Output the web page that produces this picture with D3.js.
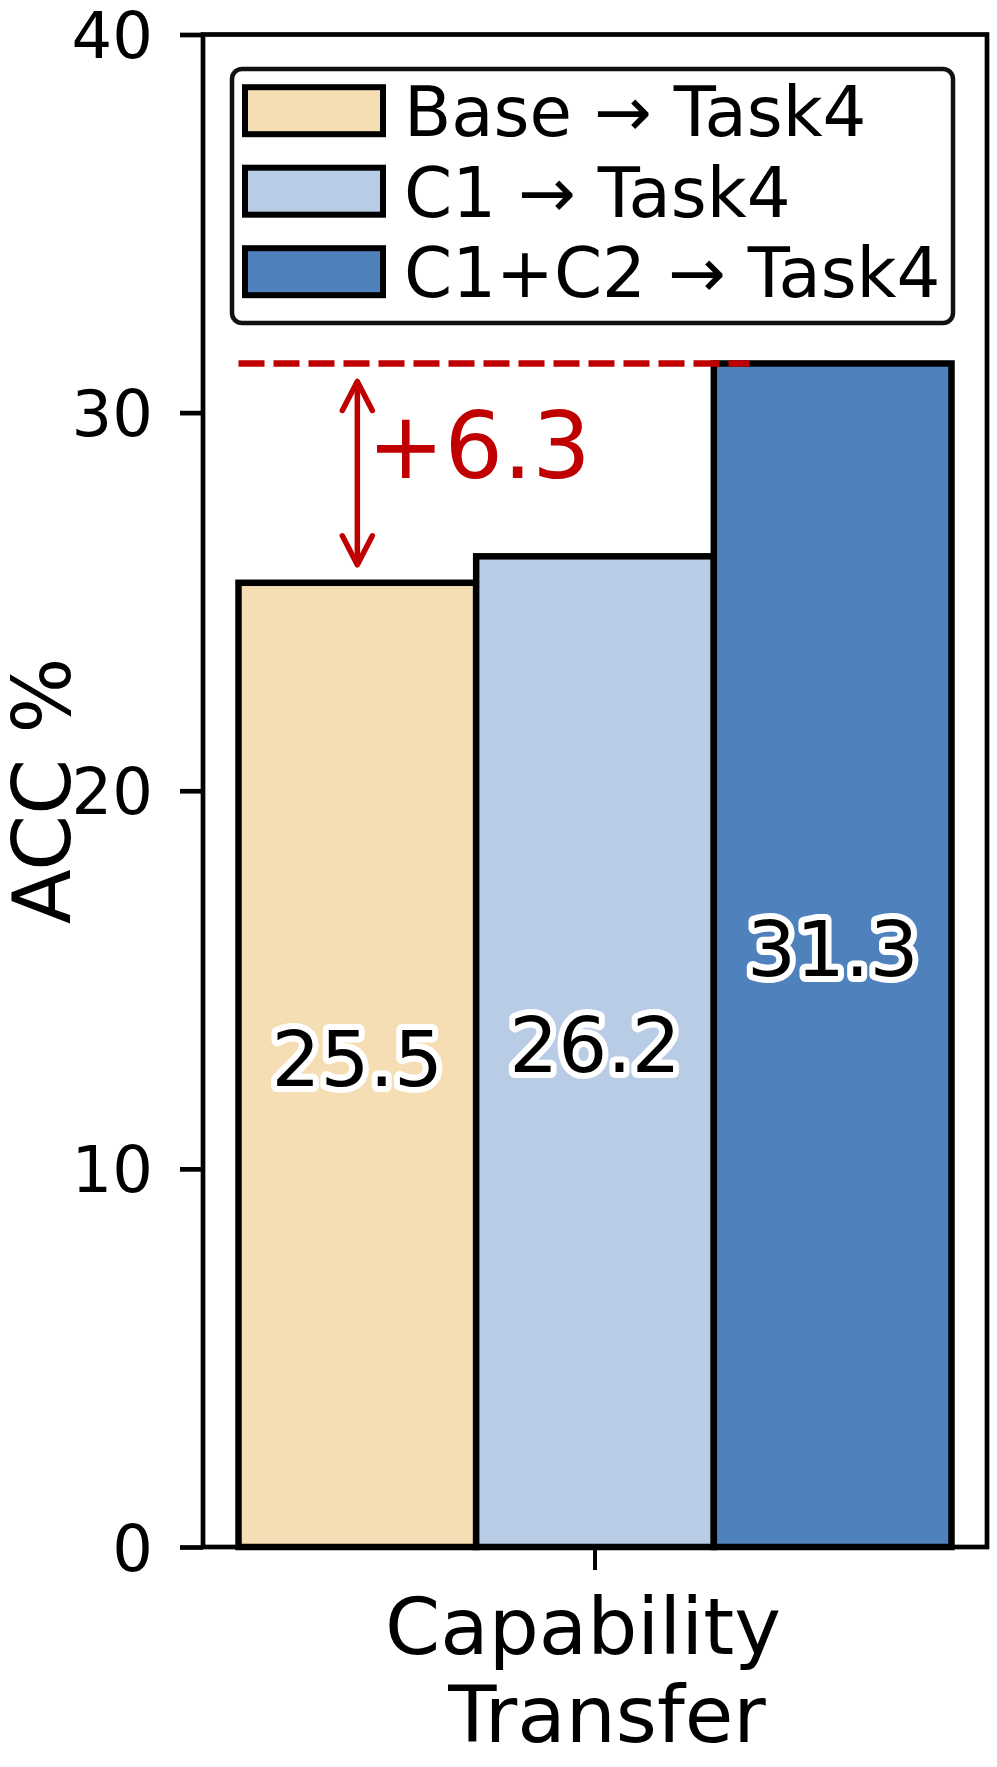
<!DOCTYPE html>
<html>
<head>
<meta charset="utf-8">
<script src="https://cdn.jsdelivr.net/npm/d3@7"></script>
<style>
  html, body { margin: 0; padding: 0; background: #fff; }
  svg { display: block; }
  text { font-family: "DejaVu Sans", sans-serif; }
</style>
</head>
<body>
<div id="chart"></div>
<script>
// ---------- data ----------
const categories = ["Capability Transfer"];
const categoryLines = ["Capability", "Transfer"];
const seriesNames = ["Base \u2192 Task4", "C1 \u2192 Task4", "C1+C2 \u2192 Task4"];
const seriesValues = [25.5, 26.2, 31.3];
const seriesColors = ["#F5DEB3", "#B8CCE6", "#4F81BD"];
const yTickValues = [0, 10, 20, 30, 40];
const yLabel = "ACC %";
const gainFrom = 0;   // index of baseline series
const gainTo = 2;     // index of best series
const gainLabel = "+6.3";

// ---------- layout ----------
const W = 997, H = 1767;
const plot = { left: 203, right: 987, top: 34.5, bottom: 1547 };

const svg = d3.select("#chart").append("svg")
  .attr("width", W).attr("height", H);

const y = d3.scaleLinear().domain([0, 40]).range([plot.bottom, plot.top]);
const xOuter = d3.scaleBand().domain(categories).range([plot.left, plot.right]);
const groupCenter = xOuter(categories[0]) + xOuter.bandwidth() / 2;
const groupHalf = 356.5;
const xInner = d3.scaleBand().domain(seriesNames)
  .range([groupCenter - groupHalf, groupCenter + groupHalf]).padding(0);

// ---------- bars ----------
svg.append("g").selectAll("rect")
  .data(seriesNames.map((n, i) => ({ name: n, value: seriesValues[i], color: seriesColors[i] })))
  .join("rect")
  .attr("x", d => xInner(d.name))
  .attr("width", xInner.bandwidth())
  .attr("y", d => y(d.value))
  .attr("height", d => y(0) - y(d.value))
  .attr("fill", d => d.color)
  .attr("stroke", "#000")
  .attr("stroke-width", 6.5);

// ---------- axes ----------
const yAxis = d3.axisLeft(y).tickValues(yTickValues).tickSize(23).tickPadding(27)
  .tickFormat(d3.format("d"));
const gy = svg.append("g").attr("transform", `translate(${plot.left},0)`).call(yAxis);
gy.select(".domain").remove();
gy.selectAll(".tick line").attr("stroke", "#000").attr("stroke-width", 4.7);
gy.selectAll(".tick text")
  .attr("font-size", 64).attr("fill", "#000")
  .attr("font-family", "DejaVu Sans").attr("dy", "0.36em");

const xAxis = d3.axisBottom(xOuter).tickSize(23).tickFormat("");
const gx = svg.append("g").attr("transform", `translate(0,${plot.bottom})`).call(xAxis);
gx.select(".domain").remove();
gx.selectAll(".tick line").attr("stroke", "#000").attr("stroke-width", 4);

// x tick label (two lines, as laid out in the reference)
const lineOffsets = [-12, 12];
const xl = svg.append("text")
  .attr("text-anchor", "middle")
  .attr("font-size", 79).attr("fill", "#000");
categoryLines.forEach((line, i) => {
  xl.append("tspan").attr("x", groupCenter + lineOffsets[i]).attr("y", 1654 + i * 88).text(line);
});

// spines (full box)
svg.append("rect")
  .attr("x", plot.left).attr("y", plot.top)
  .attr("width", plot.right - plot.left).attr("height", plot.bottom - plot.top)
  .attr("fill", "none").attr("stroke", "#000").attr("stroke-width", 4.7);

// y label
svg.append("text")
  .attr("transform", `translate(70,${(plot.top + plot.bottom) / 2}) rotate(-90)`)
  .attr("text-anchor", "middle").attr("font-size", 80).attr("fill", "#000")
  .text(yLabel);

// ---------- value labels ----------
svg.append("g").selectAll("text")
  .data(seriesNames.map((n, i) => ({ name: n, value: seriesValues[i] })))
  .join("text")
  .attr("x", d => xInner(d.name) + xInner.bandwidth() / 2)
  .attr("y", d => y(d.value / 2) - 7)
  .attr("dy", "0.36em")
  .attr("text-anchor", "middle")
  .attr("font-size", 77)
  .attr("fill", "#000")
  .attr("stroke", "#fff").attr("stroke-width", 12).attr("stroke-linejoin", "round")
  .attr("paint-order", "stroke")
  .text(d => d.value.toFixed(1));

// ---------- gain annotation ----------
const red = "#C00000";
const baseX = xInner(seriesNames[gainFrom]) + xInner.bandwidth() / 2;
const lineStart = xInner(seriesNames[gainFrom]);
const lineEnd = xInner(seriesNames[gainTo]) + 0.15 * xInner.bandwidth();
svg.append("line")
  .attr("x1", lineStart).attr("x2", lineEnd)
  .attr("y1", y(seriesValues[gainTo])).attr("y2", y(seriesValues[gainTo]))
  .attr("stroke", red).attr("stroke-width", 6.5)
  .attr("stroke-dasharray", "26 9");

const shrink = 18;
const yTop = y(seriesValues[gainTo]) + shrink;
const yBot = y(seriesValues[gainFrom]) - shrink;
const headW = 15, headL = 29;
const arrow = svg.append("g").attr("fill", "none").attr("stroke", red)
  .attr("stroke-width", 5.5).attr("stroke-linecap", "round").attr("stroke-linejoin", "round");
arrow.append("line").attr("x1", baseX).attr("x2", baseX).attr("y1", yTop + 1).attr("y2", yBot - 1);
arrow.append("path").attr("d", `M${baseX - headW},${yTop + headL} L${baseX},${yTop} L${baseX + headW},${yTop + headL}`);
arrow.append("path").attr("d", `M${baseX - headW},${yBot - headL} L${baseX},${yBot} L${baseX + headW},${yBot - headL}`);

svg.append("text")
  .attr("x", baseX + 10).attr("y", 478)
  .attr("font-size", 92).attr("fill", red)
  .text(gainLabel);

// ---------- legend ----------
const legend = { x: 232, y: 69, w: 721, h: 254 };
svg.append("rect")
  .attr("x", legend.x).attr("y", legend.y).attr("width", legend.w).attr("height", legend.h)
  .attr("rx", 10).attr("ry", 10)
  .attr("fill", "#fff").attr("stroke", "#111").attr("stroke-width", 4.5);

const rowY = d3.scalePoint().domain(seriesNames).range([110.7, 271.7]);
const lg = svg.append("g").selectAll("g")
  .data(seriesNames.map((n, i) => ({ name: n, color: seriesColors[i] })))
  .join("g")
  .attr("transform", d => `translate(0,${rowY(d.name)})`);
lg.append("rect")
  .attr("x", 245).attr("y", -23.5).attr("width", 138).attr("height", 47)
  .attr("fill", d => d.color).attr("stroke", "#000").attr("stroke-width", 6);
lg.append("text")
  .attr("x", 404).attr("y", 0).attr("dy", "0.37em")
  .attr("font-size", 69).attr("fill", "#000")
  .text(d => d.name);
</script>
</body>
</html>
